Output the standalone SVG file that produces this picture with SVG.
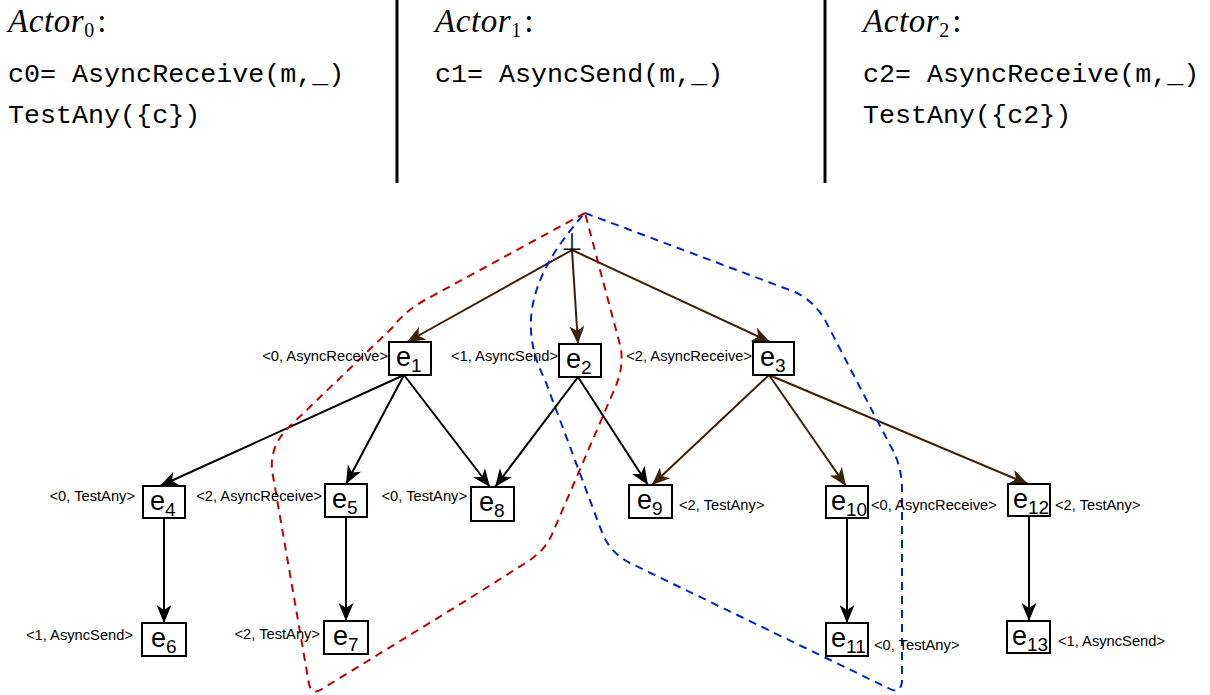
<svg xmlns="http://www.w3.org/2000/svg" width="1210" height="695" viewBox="0 0 1210 695">
<defs>
<style>
.hdr{font-family:"Liberation Serif",serif;font-style:italic;font-size:33px;letter-spacing:0.6px;fill:#000}
.sub0{font-style:normal;font-size:20px;letter-spacing:0}
.code{font-family:"Liberation Mono",monospace;font-size:26.7px;fill:#000}
.sep{stroke:#000;stroke-width:3}
.box{fill:#fff;stroke:#000;stroke-width:2}
.nt{font-family:"Liberation Sans",Arial,sans-serif;font-size:27px;fill:#000}
.ns{font-size:19px}
.lbl{font-family:"Liberation Sans",Arial,sans-serif;font-size:14.7px;fill:#000}
.end{text-anchor:end}
.ek{stroke:#000;stroke-width:2;fill:none;marker-end:url(#ak)}
.eb{stroke:#3b2107;stroke-width:2;fill:none;marker-end:url(#ab)}
.hr{fill:none;stroke:#c00000;stroke-width:2;stroke-dasharray:8 6}
.hb{fill:none;stroke:#0022cc;stroke-width:2;stroke-dasharray:8 6}
</style>
<marker id="ak" markerUnits="userSpaceOnUse" markerWidth="18" markerHeight="15" viewBox="0 0 18 15" refX="18" refY="7.5" orient="auto"><path d="M0,0 L18,7.5 L0,15 L5,7.5 Z" fill="#000"/></marker>
<marker id="ab" markerUnits="userSpaceOnUse" markerWidth="18" markerHeight="15" viewBox="0 0 18 15" refX="18" refY="7.5" orient="auto"><path d="M0,0 L18,7.5 L0,15 L5,7.5 Z" fill="#3b2107"/></marker>
</defs>
<rect width="1210" height="695" fill="#fff"/>

<g id="header">
<text class="hdr" x="8" y="32">Actor<tspan class="sub0" dy="5">0</tspan><tspan dx="3" dy="-5" font-style="normal">:</tspan></text>
<text class="code" x="8" y="82">c0= AsyncReceive(m,_)</text>
<text class="code" x="8" y="123">TestAny({c})</text>
<line class="sep" x1="397" y1="0" x2="397" y2="183"/>
<text class="hdr" x="435" y="32">Actor<tspan class="sub0" dy="5">1</tspan><tspan dx="3" dy="-5" font-style="normal">:</tspan></text>
<text class="code" x="435" y="82">c1= AsyncSend(m,_)</text>
<line class="sep" x1="825" y1="0" x2="825" y2="183"/>
<text class="hdr" x="863" y="32">Actor<tspan class="sub0" dy="5">2</tspan><tspan dx="3" dy="-5" font-style="normal">:</tspan></text>
<text class="code" x="863" y="82">c2= AsyncReceive(m,_)</text>
<text class="code" x="863" y="123">TestAny({c2})</text>
</g>

<g id="connectors">
<line class="eb" x1="572" y1="250" x2="407" y2="342"/>
<line class="eb" x1="572" y1="250" x2="578" y2="344"/>
<line class="eb" x1="572" y1="250" x2="770" y2="342"/>
<line class="ek" x1="404" y1="375" x2="160" y2="486"/>
<line class="ek" x1="404" y1="375" x2="346" y2="484"/>
<line class="ek" x1="404" y1="375" x2="490" y2="487"/>
<line class="ek" x1="578" y1="377" x2="495" y2="487"/>
<line class="ek" x1="578" y1="377" x2="648" y2="485"/>
<line class="eb" x1="769" y1="375" x2="652" y2="485"/>
<line class="eb" x1="769" y1="375" x2="846" y2="486"/>
<line class="eb" x1="769" y1="375" x2="1028" y2="484"/>
<line class="ek" x1="164" y1="518" x2="164" y2="623"/>
<line class="ek" x1="346" y1="517" x2="346" y2="621"/>
<line class="ek" x1="847" y1="518" x2="847" y2="623"/>
<line class="ek" x1="1029" y1="516" x2="1029" y2="621"/>
</g>

<g id="hulls">
<path class="hr" d="M585,213 L425,300 Q405,311 392,328 L288,428 Q270,446 272,470 L309,684 Q312,696 322,689 L467,600 L527,562 Q546,550 553,532 L615,388 Q625,365 620,345 Z"/>
<path class="hb" d="M585,213 L795,292 Q815,302 825,320 L890,445 Q902,465 902,490 L902,682 Q900,695 888,688 L630,563 Q612,554 603,535 L545,380 C520,330 525,280 585,213 Z"/>
</g>

<g id="root"><text x="572" y="250" font-family="DejaVu Sans,sans-serif" font-size="24" text-anchor="middle">⊥</text></g>

<g id="e1"><rect class="box" x="389" y="342" width="42" height="33"/><text class="nt" x="396" y="366">e<tspan class="ns" dy="6">1</tspan></text><text class="lbl end" x="388" y="361">&lt;0, AsyncReceive&gt;</text></g>
<g id="e2"><rect class="box" x="559" y="344" width="42" height="33"/><text class="nt" x="566" y="368">e<tspan class="ns" dy="6">2</tspan></text><text class="lbl end" x="558" y="361">&lt;1, AsyncSend&gt;</text></g>
<g id="e3"><rect class="box" x="753" y="342" width="41" height="33"/><text class="nt" x="760" y="366">e<tspan class="ns" dy="6">3</tspan></text><text class="lbl end" x="752" y="361">&lt;2, AsyncReceive&gt;</text></g>

<g id="e4"><rect class="box" x="143" y="486" width="42" height="32"/><text class="nt" x="150" y="510">e<tspan class="ns" dy="6">4</tspan></text><text class="lbl end" x="135" y="501">&lt;0, TestAny&gt;</text></g>
<g id="e5"><rect class="box" x="325" y="484" width="42" height="33"/><text class="nt" x="332" y="508">e<tspan class="ns" dy="6">5</tspan></text><text class="lbl end" x="322" y="501">&lt;2, AsyncReceive&gt;</text></g>
<g id="e8"><rect class="box" x="471" y="487" width="43" height="34"/><text class="nt" x="479" y="511">e<tspan class="ns" dy="6">8</tspan></text><text class="lbl end" x="467" y="501">&lt;0, TestAny&gt;</text></g>
<g id="e9"><rect class="box" x="629" y="485" width="43" height="33"/><text class="nt" x="637" y="509">e<tspan class="ns" dy="6">9</tspan></text><text class="lbl" x="679" y="510">&lt;2, TestAny&gt;</text></g>
<g id="e10"><rect class="box" x="826" y="486" width="42" height="32"/><text class="nt" x="831" y="510">e<tspan class="ns" dy="6">10</tspan></text><text class="lbl" x="871" y="510">&lt;0, AsyncReceive&gt;</text></g>
<g id="e12"><rect class="box" x="1008" y="484" width="42" height="32"/><text class="nt" x="1013" y="508">e<tspan class="ns" dy="6">12</tspan></text><text class="lbl" x="1055" y="510">&lt;2, TestAny&gt;</text></g>

<g id="e6"><rect class="box" x="142" y="623" width="44" height="33"/><text class="nt" x="151" y="647">e<tspan class="ns" dy="6">6</tspan></text><text class="lbl end" x="133" y="640">&lt;1, AsyncSend&gt;</text></g>
<g id="e7"><rect class="box" x="324" y="621" width="44" height="33"/><text class="nt" x="333" y="645">e<tspan class="ns" dy="6">7</tspan></text><text class="lbl end" x="320" y="639">&lt;2, TestAny&gt;</text></g>
<g id="e11"><rect class="box" x="826" y="623" width="42" height="33"/><text class="nt" x="831" y="647">e<tspan class="ns" dy="6">11</tspan></text><text class="lbl" x="874" y="650">&lt;0, TestAny&gt;</text></g>
<g id="e13"><rect class="box" x="1007" y="621" width="43" height="32"/><text class="nt" x="1012" y="645">e<tspan class="ns" dy="6">13</tspan></text><text class="lbl" x="1058" y="646">&lt;1, AsyncSend&gt;</text></g>
</svg>
